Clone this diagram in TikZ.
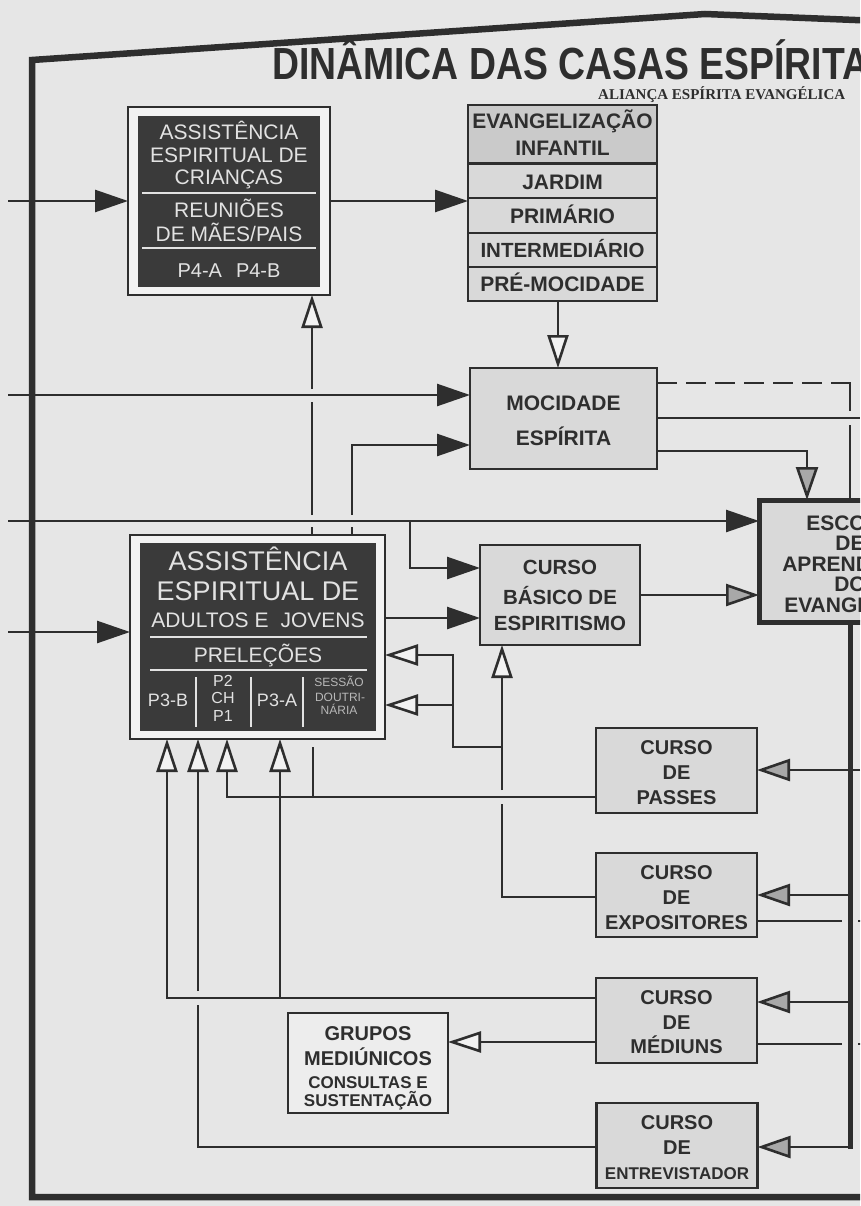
\documentclass[tikz,border=0pt]{standalone}
\usepackage{fontspec}
\setmainfont{Liberation Sans}
\newfontfamily\subfont{Liberation Serif}
\usetikzlibrary{arrows.meta}
\definecolor{ink}{HTML}{2E2E2E}
\definecolor{paper}{HTML}{E6E6E6}
\definecolor{boxfill}{HTML}{D9D9D9}
\definecolor{hdrfill}{HTML}{CACACA}
\definecolor{darkfill}{HTML}{3A3A3A}
\definecolor{lighttext}{HTML}{E2E2E2}
\definecolor{tipgrey}{HTML}{A8A8A8}
\definecolor{whitish}{HTML}{F2F2F2}
\begin{document}
\begin{tikzpicture}[x=1pt,y=-1pt,
  conn/.style={draw=ink,line width=2.6pt},
  solidarr/.style={-{Triangle[length=33pt,width=22pt]}},
  openarr/.style={-{Triangle[length=33pt,width=21pt,fill=whitish]}},
  greyarr/.style={-{Triangle[length=33pt,width=22pt,fill=tipgrey]}},
  lbox/.style={rectangle,draw=ink,line width=2.8pt,fill=boxfill,inner sep=0pt,outer sep=0pt},
  dbox/.style={rectangle,fill=darkfill,inner sep=0pt,outer sep=0pt},
  lt/.style={anchor=base,inner sep=0pt,text=ink,font=\bfseries\fontsize{20}{22}\selectfont},
  dt/.style={anchor=base,inner sep=0pt,text=lighttext,font=\fontsize{21}{23}\selectfont},
  sepl/.style={draw=lighttext,line width=1.2pt}
]
\useasboundingbox (0,0) rectangle (860,1206);
\clip (0,0) rectangle (860,1206);
\fill[paper] (0,0) rectangle (860,1206);

% ---------- frame and title
\draw[ink,line width=6.5pt,line join=miter] (880,21) -- (705,14) -- (32,60) -- (32,1197) -- (880,1197);
\node[anchor=base west,inner sep=0pt,text depth=0pt,text=ink,font=\bfseries\fontsize{45}{48}\selectfont] (title) at (272,80) {\scalebox{0.83}[1]{DINÂMICA DAS CASAS ESPÍRITAS}};
\node[anchor=base west,inner sep=0pt,text depth=0pt,text=ink,font=\subfont\bfseries\fontsize{15}{17}\selectfont] (subtitle) at (598,100) {ALIANÇA ESPÍRITA EVANGÉLICA};

% ---------- boxes
\node[lbox,fill=whitish,minimum width=202pt,minimum height=188pt] (kids) at (229,201) {};
\node[dbox,minimum width=182pt,minimum height=171pt] (kidsin) at (229,201.5) {};
\node[lbox,minimum width=189pt,minimum height=196pt] (evang) at (562.5,203) {};
\fill[hdrfill] (evang.north west) rectangle (evang.east |- 0,164);
\draw[ink,line width=2.8pt] (evang.north west) rectangle (evang.south east);
\draw[ink,line width=3pt] (evang.west |- 0,164) -- (evang.east |- 0,164);
\foreach \yy in {198,233,267} \draw[ink,line width=2.2pt] (evang.west |- 0,\yy) -- (evang.east |- 0,\yy);
\node[lbox,minimum width=187pt,minimum height=101pt] (moc) at (563.5,418.5) {};
\node[lbox,minimum width=160pt,minimum height=100pt] (basic) at (560,595) {};
\node[lbox,line width=5pt,minimum width=182pt,minimum height=122pt] (escola) at (850,561) {};
\node[lbox,fill=whitish,minimum width=255pt,minimum height=204pt] (adults) at (257.5,637) {};
\node[dbox,minimum width=236pt,minimum height=188pt] (adultsin) at (258,637) {};
\node[lbox,minimum width=161pt,minimum height=85pt] (passes) at (676.5,770.5) {};
\node[lbox,minimum width=161pt,minimum height=84pt] (expo) at (676.5,895) {};
\node[lbox,minimum width=161pt,minimum height=85pt] (med) at (676.5,1020.5) {};
\node[lbox,minimum width=161pt,minimum height=85pt] (entre) at (677,1145.5) {};
\node[lbox,fill=whitish!60!paper,minimum width=160pt,minimum height=100pt] (grupos) at (368,1063) {};

% ---------- texts: kids
\node[dt] (k1) at (229,140) {ASSISTÊNCIA};
\node[dt] (k2) at (229,163) {ESPIRITUAL DE};
\node[dt] (k3) at (229,185) {CRIANÇAS};
\draw[sepl] (142,193) -- (316,193);
\node[dt] (k4) at (229,218) {REUNIÕES};
\node[dt] (k5) at (229,241) {DE MÃES/PAIS};
\draw[sepl] (142,248) -- (316,248);
\node[dt,font=\fontsize{20}{22}\selectfont] (k6) at (229,277) {P4-A\hspace{14pt}P4-B};

% ---------- texts: adults
\node[dt,font=\fontsize{27}{30}\selectfont] (a1) at (258,570) {ASSISTÊNCIA};
\node[dt,font=\fontsize{27}{30}\selectfont] (a2) at (258,600) {ESPIRITUAL DE};
\node[dt] (a3) at (258,627) {ADULTOS E\hspace{12pt}JOVENS};
\draw[sepl] (150,637) -- (367,637);
\node[dt] (a4) at (258,662) {PRELEÇÕES};
\draw[sepl] (150,670) -- (367,670);
\foreach \xx in {196,251,303} \draw[sepl] (\xx,677) -- (\xx,727);
\node[dt,font=\fontsize{18}{20}\selectfont] (a5) at (168,706) {P3-B};
\node[dt,font=\fontsize{16}{18}\selectfont] (a6) at (223,686) {P2};
\node[dt,font=\fontsize{16}{18}\selectfont] (a7) at (223,703.5) {CH};
\node[dt,font=\fontsize{16}{18}\selectfont] (a8) at (223,721) {P1};
\node[dt,font=\fontsize{18}{20}\selectfont] (a9) at (277,706) {P3-A};
\node[dt,text=lighttext!75!darkfill,font=\fontsize{12}{14}\selectfont] (a10) at (339,686.5) {SESSÃO};
\node[dt,text=lighttext!75!darkfill,font=\fontsize{12}{14}\selectfont] (a11) at (340,701.5) {DOUTRI-};
\node[dt,text=lighttext!75!darkfill,font=\fontsize{12}{14}\selectfont] (a12) at (339,714.5) {NÁRIA};

% ---------- texts: light boxes
\node[lt,font=\bfseries\fontsize{21}{23}\selectfont] (e1) at (562.5,129) {EVANGELIZAÇÃO};
\node[lt,font=\bfseries\fontsize{21}{23}\selectfont] (e2) at (562.5,156) {INFANTIL};
\node[lt,font=\bfseries\fontsize{21}{23}\selectfont] (e3) at (562.5,190) {JARDIM};
\node[lt,font=\bfseries\fontsize{21}{23}\selectfont] (e4) at (562.5,224) {PRIMÁRIO};
\node[lt,font=\bfseries\fontsize{20.5}{23}\selectfont] (e5) at (562.5,257) {INTERMEDIÁRIO};
\node[lt,font=\bfseries\fontsize{21}{23}\selectfont] (e6) at (562.5,291) {PRÉ-MOCIDADE};

\node[lt,font=\bfseries\fontsize{21}{23}\selectfont] (m1) at (563.5,410) {MOCIDADE};
\node[lt,font=\bfseries\fontsize{21}{23}\selectfont] (m2) at (563.5,445) {ESPÍRITA};

\node[lt,font=\bfseries\fontsize{20.5}{23}\selectfont] (b1) at (560,574) {CURSO};
\node[lt,font=\bfseries\fontsize{20.5}{23}\selectfont] (b2) at (560,604) {BÁSICO DE};
\node[lt,font=\bfseries\fontsize{20.5}{23}\selectfont] (b3) at (560,630) {ESPIRITISMO};

\node[lt,font=\bfseries\fontsize{21}{23}\selectfont] (s1) at (850,530) {ESCOLA};
\node[lt,font=\bfseries\fontsize{21}{23}\selectfont] (s2) at (850,550) {DE};
\node[lt,font=\bfseries\fontsize{21}{23}\selectfont] (s3) at (850,571) {APRENDIZES};
\node[lt,font=\bfseries\fontsize{21}{23}\selectfont] (s4) at (850,591) {DO};
\node[lt,font=\bfseries\fontsize{21}{23}\selectfont] (s5) at (850,612) {EVANGELHO};

\node[lt] (p1) at (676.5,754) {CURSO};
\node[lt] (p2) at (676.5,779) {DE};
\node[lt] (p3) at (676.5,804) {PASSES};
\node[lt] (x1) at (676.5,879) {CURSO};
\node[lt] (x2) at (676.5,904) {DE};
\node[lt] (x3) at (676.5,929) {EXPOSITORES};
\node[lt] (d1) at (676.5,1004) {CURSO};
\node[lt] (d2) at (676.5,1029) {DE};
\node[lt] (d3) at (676.5,1053) {MÉDIUNS};
\node[lt] (n1) at (677,1129) {CURSO};
\node[lt] (n2) at (677,1154) {DE};
\node[lt,font=\bfseries\fontsize{17}{19}\selectfont] (n3) at (677,1179) {ENTREVISTADOR};

\node[lt] (g1) at (368,1040) {GRUPOS};
\node[lt] (g2) at (368,1065) {MEDIÚNICOS};
\node[lt,font=\bfseries\fontsize{17}{19}\selectfont] (g3) at (368,1088) {CONSULTAS E};
\node[lt,font=\bfseries\fontsize{17}{19}\selectfont] (g4) at (368,1106) {SUSTENTAÇÃO};

% ---------- connectors: left inputs
\draw[conn,solidarr] (kids.west -| 8,0) -- (kids.west);
\draw[conn,solidarr] (kids.east) -- (evang.west |- kids.east);
\draw[conn,openarr] (evang.south -| 558,0) -- (moc.north -| 558,0);
\draw[conn,solidarr] (8,395) -- (moc.west |- 0,395);
\draw[conn,solidarr] (8,521) -- (escola.west |- 0,521);
\draw[conn,solidarr] (410,521) -- (410,568) -- (basic.west |- 0,568);
\draw[conn,solidarr] (8,632) -- (adults.west |- 0,632);
\draw[conn,solidarr] (adults.east |- 0,618) -- (basic.west |- 0,618);

% verticals from adults top
\draw[conn] (312,0 |- adults.north) -- (312,527);
\draw[conn] (312,515) -- (312,402);
\draw[conn,openarr] (312,389) -- (312,0 |- kids.south);
\draw[conn] (352,0 |- adults.north) -- (352,527);
\draw[conn,solidarr] (352,515) -- (352,445) -- (moc.west |- 0,445);

% mocidade right side
\draw[conn,dash pattern=on 20pt off 9pt] (moc.east |- 0,383) -- (860,383);
\draw[conn] (moc.east |- 0,418) -- (860,418);
\draw[conn,greyarr] (moc.east |- 0,451) -- (807,451) -- (807,0 |- escola.north);
\draw[conn] (850,383) -- (850,411);
\draw[conn] (850,425) -- (escola.north);
\draw[conn,greyarr] (basic.east) -- (escola.west |- basic.east);

% bus
\draw[ink,line width=5pt] (escola.south) -- (850,1149);
\draw[conn,greyarr] (860,770) -- (passes.east |- 0,770);
\draw[conn,greyarr] (850,895) -- (expo.east |- 0,895);
\draw[conn,greyarr] (850,1002) -- (med.east |- 0,1002);
\draw[conn,greyarr] (850,1147) -- (entre.east |- 0,1147);
\draw[conn] (expo.east |- 0,921) -- (842,921);
\draw[conn] (858,921) -- (862,921);
\draw[conn] (med.east |- 0,1044) -- (842,1044);
\draw[conn] (858,1044) -- (862,1044);

% passes left
\draw[conn,openarr] (passes.west |- 0,797) -- (227,797) -- (227,0 |- adults.south);
\draw[conn] (313,797) -- (313,747);
% expositores left
\draw[conn] (expo.west |- 0,897) -- (502,897) -- (502,804);
\draw[conn,openarr] (502,790) -- (502,0 |- basic.south);
\draw[conn,openarr] (502,747) -- (453,747) -- (453,655) -- (adults.east |- 0,655);
\draw[conn,openarr] (453,705) -- (adults.east |- 0,705);
% mediuns left
\draw[conn,openarr] (med.west |- 0,998) -- (167,998) -- (167,0 |- adults.south);
\draw[conn,openarr] (280,998) -- (280,0 |- adults.south);
\draw[conn,openarr] (med.west |- 0,1042) -- (grupos.east |- 0,1042);
% entrevistador left
\draw[conn] (entre.west |- 0,1147) -- (198,1147) -- (198,1005);
\draw[conn,openarr] (198,991) -- (198,0 |- adults.south);
\end{tikzpicture}
\end{document}
